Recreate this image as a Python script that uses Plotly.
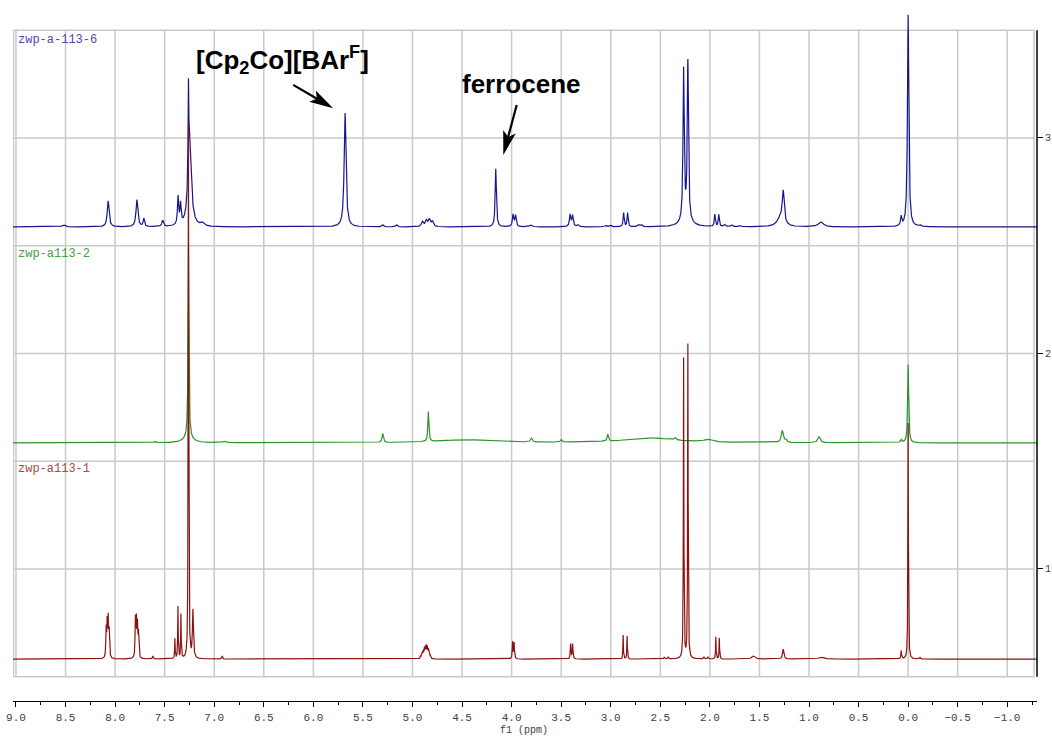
import numpy as np
import plotly.graph_objects as go

# ---------------- data ----------------
x_tick_vals = [9.0, 8.5, 8.0, 7.5, 7.0, 6.5, 6.0, 5.5, 5.0, 4.5, 4.0, 3.5, 3.0,
               2.5, 2.0, 1.5, 1.0, 0.5, 0.0, -0.5, -1.0]
y_tick_vals = [1, 2, 3]
y_grid_vals = [0.5, 1.0, 1.5, 2.0, 2.5, 3.0, 3.5]

spectrum_names = ["zwp-a-113-6", "zwp-a113-2", "zwp-a113-1"]
spectrum_offsets = [2.587, 1.585, 0.582]
intensity_per_unit = 215.5

# spectrum 1 (top, blue): peak positions (ppm), intensities, half-widths (ppm)
blue_ppm = [8.52, 8.07, 7.78, 7.71, 7.52, 7.365, 7.34, 7.26, 7.248, 7.12,
            5.68, 5.30, 5.16, 4.90, 4.86, 4.83, 4.80, 4.16, 3.985, 3.96,
            3.81, 3.41, 3.385, 3.33, 3.05, 3.00, 2.87, 2.83, 2.72, 2.69,
            2.265, 2.222, 2.24, 1.95, 1.91, 1.85, 1.78, 1.70, 1.26, 1.29,
            0.88, 0.07, 0.00, -0.12]
blue_int = [2, 26, 27, 8, 6, 28, 20, 88, 82, 3,
            114, 2, 2, 5, 6, 7, 5, 58, 12, 11,
            2, 12, 11, 2, 1.5, 1.5, 14, 14, 2, 2,
            150, 157, 8, 12, 12, 2, 2, 1.5, 32, 8,
            5, 9, 212, 1.5]
blue_hw = [0.02, 0.011, 0.011, 0.008, 0.01, 0.007, 0.007, 0.004, 0.02, 0.02,
           0.011, 0.01, 0.01, 0.012, 0.012, 0.012, 0.012, 0.007, 0.008, 0.008,
           0.015, 0.008, 0.008, 0.01, 0.01, 0.01, 0.006, 0.006, 0.01, 0.01,
           0.007, 0.007, 0.05, 0.006, 0.006, 0.01, 0.01, 0.01, 0.012, 0.04,
           0.03, 0.007, 0.008, 0.01]

# spectrum 2 (middle, green)
green_ppm = [7.60, 7.26, 7.262, 6.90, 5.30, 4.84, 4.45, 3.80, 3.50, 3.03,
             2.60, 2.35, 2.02, 1.27, 1.235, 0.90, 0.07, 0.00]
green_int = [1.5, 190, 6, 1.5, 9, 30, 3, 4, 2.5, 7,
             5, 2.5, 2.5, 12, 3, 6, 3, 78]
green_hw = [0.01, 0.005, 0.05, 0.02, 0.008, 0.006, 0.35, 0.01, 0.01, 0.008,
            0.3, 0.01, 0.05, 0.012, 0.01, 0.015, 0.008, 0.006]

# spectrum 3 (bottom, dark red)
red_ppm = [8.09, 8.08, 8.07, 8.06, 7.795, 7.785, 7.775, 7.765, 7.62, 7.397,
           7.366, 7.336, 7.26, 7.215, 6.92, 4.92, 4.91, 4.90, 4.89, 4.88,
           4.87, 4.86, 4.85, 4.84, 4.83, 4.82, 3.99, 3.975, 3.405, 3.385,
           2.875, 2.835, 2.46, 2.42, 2.265, 2.222, 2.06, 2.02, 1.94, 1.905,
           1.56, 1.26, 0.88, 0.07, 0.00, -0.12]
red_int = [28, 33, 37, 26, 38, 35, 31, 24, 3, 20,
           52, 44, 534, 48, 3, 2, 3, 5, 7, 9,
           10, 11, 10, 8, 5, 3, 17, 16, 15, 15,
           24, 23, 2, 2, 300, 314, 2, 2, 22, 21,
           3, 10, 2, 8, 236, 1.5]
red_hw = [0.004, 0.004, 0.004, 0.004, 0.004, 0.004, 0.004, 0.004, 0.005, 0.003,
          0.003, 0.003, 0.003, 0.006, 0.005, 0.004, 0.004, 0.004, 0.004, 0.004,
          0.004, 0.004, 0.004, 0.004, 0.004, 0.004, 0.004, 0.004, 0.004, 0.004,
          0.003, 0.003, 0.005, 0.005, 0.003, 0.003, 0.005, 0.005, 0.003, 0.003,
          0.02, 0.008, 0.03, 0.004, 0.003, 0.005]

# annotations: label, arrow tip (ppm, y), tail offset (px, screen), label position
annot_texts = ["[Cp<sub>2</sub>Co][BAr<sup>F</sup>]", "ferrocene"]
annot_text_pos = [(6.31, 3.362), (3.905, 3.251)]
arrow_tips = [(5.80, 3.138), (4.084, 2.921)]
arrow_tails_px = [(-40.0, -23.3), (13.4, -50.0)]

# ---------------- figure ----------------
X_RANGE = [9.03, -1.30]
Y_RANGE = [0.3875, 3.640]
FRAME_LEFT, FRAME_RIGHT = 9.025, -1.27
colors = ["#16168c", "#2a932a", "#8b1212"]
label_colors = ["#4a4ab0", "#44a044", "#a84848"]
mono = "Liberation Mono"

ppm = np.arange(int(X_RANGE[0] * 1000), int(X_RANGE[1] * 1000) - 1, -1) / 1000.0


def spectrum(centers, ints, hws, offset):
    y = np.zeros_like(ppm)
    for c, h, w in zip(centers, ints, hws):
        y += h / (1.0 + ((ppm - c) / w) ** 2)
    return offset + y / intensity_per_unit


fig = go.Figure()
for name, pk, col, off in zip(
        spectrum_names,
        [(blue_ppm, blue_int, blue_hw), (green_ppm, green_int, green_hw),
         (red_ppm, red_int, red_hw)],
        colors, spectrum_offsets):
    fig.add_trace(go.Scatter(x=ppm, y=spectrum(*pk, off), mode="lines",
                             line=dict(color=col, width=1.2), name=name,
                             hoverinfo="skip"))

shapes = []
grid_col = "#c9c9c9"
for xv in x_tick_vals + [FRAME_LEFT, FRAME_RIGHT]:
    shapes.append(dict(type="line", xref="x", yref="y", x0=xv, x1=xv,
                       y0=y_grid_vals[0], y1=y_grid_vals[-1], layer="below",
                       line=dict(color=grid_col, width=1.5)))
for yv in y_grid_vals:
    shapes.append(dict(type="line", xref="x", yref="y", x0=FRAME_LEFT, x1=FRAME_RIGHT,
                       y0=yv, y1=yv, layer="below",
                       line=dict(color=grid_col, width=1.5)))
# right intensity axis line
shapes.append(dict(type="line", xref="paper", yref="y", x0=1, x1=1,
                   y0=y_grid_vals[0], y1=y_grid_vals[-1],
                   line=dict(color="black", width=1.5)))

# arrows (shaft + stealth head) drawn in pixel offsets from the tip
HEAD_L, HEAD_W = 24.0, 13.0
for (tx, ty), (dx, dy) in zip(arrow_tips, arrow_tails_px):
    n = np.hypot(dx, dy)
    ux, uy = dx / n, dy / n
    nx, ny = -uy, ux
    p1 = (HEAD_L * ux + HEAD_W / 2 * nx, HEAD_L * uy + HEAD_W / 2 * ny)
    p2 = (0.78 * HEAD_L * ux, 0.78 * HEAD_L * uy)
    p3 = (HEAD_L * ux - HEAD_W / 2 * nx, HEAD_L * uy - HEAD_W / 2 * ny)
    head = "M0,0 L{:.2f},{:.2f} L{:.2f},{:.2f} L{:.2f},{:.2f} Z".format(
        p1[0], -p1[1], p2[0], -p2[1], p3[0], -p3[1])
    shaft = "M{:.2f},{:.2f} L{:.2f},{:.2f}".format(dx, -dy, p2[0], -p2[1])
    for path, filled in [(shaft, False), (head, True)]:
        shapes.append(dict(type="path", xref="x", yref="y",
                           xsizemode="pixel", ysizemode="pixel",
                           xanchor=tx, yanchor=ty, path=path,
                           fillcolor="black" if filled else None,
                           line=dict(color="black", width=0 if filled else 2.2)))

annotations = []
for txt, (ax_, ay_) in zip(annot_texts, annot_text_pos):
    annotations.append(dict(text="<b>" + txt + "</b>", x=ax_, y=ay_, xref="x", yref="y",
                            showarrow=False, xanchor="center", yanchor="middle",
                            font=dict(family="Liberation Sans", size=26, color="black")))
label_y = [3.455, 2.462, 1.464]
for name, ly, lc in zip(spectrum_names, label_y, label_colors):
    annotations.append(dict(text=name, x=x_tick_vals[0], y=ly, xref="x", yref="y",
                            showarrow=False, xanchor="left", yanchor="middle",
                            font=dict(family=mono, size=12, color=lc)))
annotations.append(dict(text="f1 (ppm)", x=3.88, y=0, xref="x", yref="paper",
                        yshift=-29.5, showarrow=False, xanchor="center", yanchor="middle",
                        font=dict(family=mono, size=10, color="#404040")))

fig.update_layout(
    width=1052, height=736,
    margin=dict(l=13, r=15, t=0, b=35, autoexpand=False),
    paper_bgcolor="white", plot_bgcolor="white",
    showlegend=False,
    shapes=shapes, annotations=annotations,
    xaxis=dict(range=X_RANGE, showgrid=False, zeroline=False, automargin=False,
               showline=True, linecolor="black", linewidth=1.2,
               tickmode="array", tickvals=x_tick_vals,
               ticktext=["{:.1f}".format(v).replace("-", "\u2212") for v in x_tick_vals],
               ticks="outside", ticklen=5, tickcolor="black", tickwidth=1.2,
               minor=dict(dtick=0.25, tick0=0, ticks="outside", ticklen=3,
                          tickcolor="black", tickwidth=1.2, showgrid=False),
               ticklabelstandoff=1,
               tickfont=dict(family=mono, size=11, color="#404040")),
    yaxis=dict(range=Y_RANGE, side="right", showgrid=False, zeroline=False,
               automargin=False,
               showline=False, tickmode="array", tickvals=y_tick_vals,
               ticks="outside", ticklen=5, tickcolor="black", tickwidth=1.2,
               ticklabelstandoff=0,
               tickfont=dict(family=mono, size=10, color="#404040")),
)

fig.write_html("out.html")
